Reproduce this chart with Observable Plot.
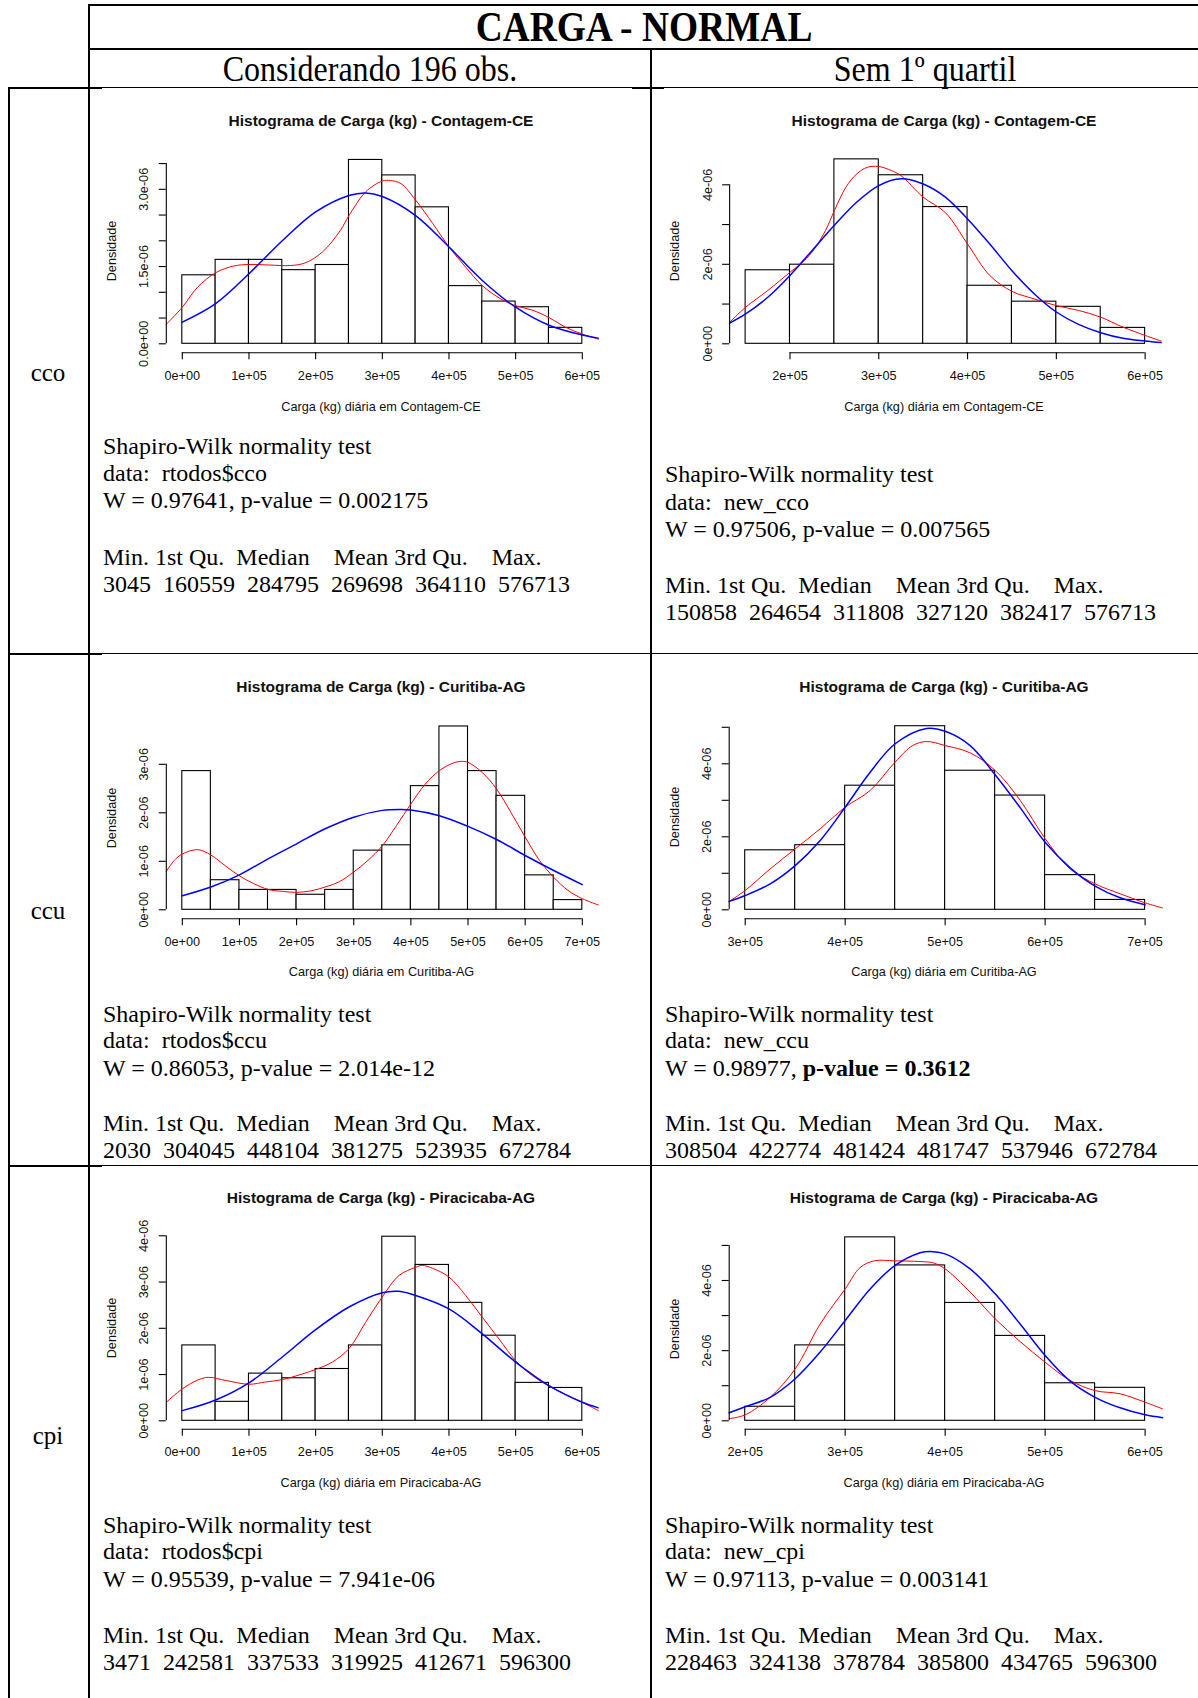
<!DOCTYPE html>
<html><head><meta charset="utf-8">
<script src="https://cdn.jsdelivr.net/npm/d3@7"></script>
<script src="https://cdn.jsdelivr.net/npm/@observablehq/plot@0.6"></script>
<style>
body{margin:0;background:#fff;}
#page{position:relative;width:1198px;height:1698px;overflow:hidden;background:#fff;}
.ln{position:absolute;background:#000;}
.t{position:absolute;white-space:pre;font-family:"Liberation Serif","Times New Roman",serif;color:#000;line-height:1;}
.r{position:absolute;white-space:pre;font-family:"Liberation Sans",Arial,sans-serif;color:#111;line-height:1;}
.panel{position:absolute;}
</style></head><body><div id="page"></div>
<script>
// ---------------- DATA (densities in units of 1e-6, x in kg) ----------------
// Panel cco - all 196 obs.
const ccoAllBreaks = [0,50000,100000,150000,200000,250000,300000,350000,400000,450000,500000,550000,600000];
const ccoAllDensity = [1.33,1.63,1.63,1.43,1.53,3.57,3.27,2.65,1.12,0.82,0.71,0.31];
const ccoAllNormX = [0,50000,100000,150000,200000,250000,275000,300000,350000,400000,450000,500000,550000,600000,624000];
const ccoAllNormY = [0.42,0.78,1.36,2.00,2.56,2.88,2.93,2.86,2.49,1.88,1.23,0.71,0.36,0.17,0.11];
const ccoAllKdeX = [-24000,0,23000,50000,77000,100000,130000,162000,184000,210000,237000,250000,275000,300000,312000,328000,350000,376000,400000,425000,450000,478000,500000,526000,550000,575000,600000,624000];
const ccoAllKdeY = [0.38,0.71,1.10,1.38,1.51,1.54,1.53,1.52,1.57,1.78,2.20,2.49,2.95,3.16,3.17,3.11,2.79,2.33,1.88,1.49,1.13,0.87,0.74,0.65,0.51,0.32,0.19,0.09];
const ccoAllXTicks = [0,100000,200000,300000,400000,500000,600000];
const ccoAllXLabels = ["0e+00","1e+05","2e+05","3e+05","4e+05","5e+05","6e+05"];
const ccoAllYTicks = [0,0.5,1,1.5,2,2.5,3,3.5];
const ccoAllYLabels = ["0.0e+00","","","1.5e-06","","","3.0e-06",""];

// Panel cco - without 1st quartile
const ccoSemBreaks = [150000,200000,250000,300000,350000,400000,450000,500000,550000,600000];
const ccoSemDensity = [1.85,1.99,4.64,4.24,3.44,1.46,1.06,0.93,0.40];
const ccoSemNormX = [132000,150000,175000,200000,225000,250000,275000,300000,325000,350000,375000,400000,425000,450000,475000,500000,525000,550000,575000,600000,618000];
const ccoSemNormY = [0.52,0.75,1.17,1.72,2.35,2.98,3.56,3.98,4.15,4.02,3.69,3.14,2.51,1.84,1.26,0.80,0.49,0.28,0.14,0.07,0.03];
const ccoSemKdeX = [132000,150000,175000,200000,212000,225000,240000,250000,263000,275000,287000,300000,314000,325000,350000,375000,400000,425000,450000,475000,500000,525000,550000,575000,600000,618000];
const ccoSemKdeY = [0.54,0.92,1.34,1.80,2.01,2.31,2.85,3.35,3.94,4.27,4.44,4.46,4.36,4.23,3.69,3.30,2.51,1.72,1.32,1.13,0.96,0.84,0.67,0.42,0.21,0.07];
const ccoSemXTicks = [200000,300000,400000,500000,600000];
const ccoSemXLabels = ["2e+05","3e+05","4e+05","5e+05","6e+05"];
const ccoSemYTicks = [0,1,2,3,4];
const ccoSemYLabels = ["0e+00","","2e-06","","4e-06"];

// Panel ccu - all 196 obs.
const ccuAllBreaks = [0,50000,100000,150000,200000,250000,300000,350000,400000,450000,500000,550000,600000,650000,700000];
const ccuAllDensity = [2.86,0.61,0.41,0.41,0.31,0.41,1.22,1.33,2.55,3.78,2.86,2.35,0.71,0.20];
const ccuAllNormX = [0,50000,100000,150000,200000,250000,300000,350000,381000,400000,450000,500000,550000,600000,650000,700000];
const ccuAllNormY = [0.29,0.47,0.72,1.05,1.36,1.67,1.91,2.05,2.07,2.06,1.94,1.72,1.45,1.12,0.81,0.52];
const ccuAllKdeX = [-28000,-14000,0,27000,50000,75000,100000,125000,150000,175000,200000,225000,250000,275000,300000,325000,350000,375000,400000,425000,450000,475000,489000,500000,525000,550000,575000,600000,625000,650000,675000,700000,728000];
const ccuAllKdeY = [0.79,1.02,1.15,1.24,1.13,0.91,0.70,0.54,0.42,0.38,0.36,0.39,0.47,0.58,0.78,1.02,1.32,1.74,2.18,2.59,2.87,3.03,3.06,3.04,2.83,2.49,2.01,1.50,1.02,0.67,0.40,0.23,0.10];
const ccuAllXTicks = [0,100000,200000,300000,400000,500000,600000,700000];
const ccuAllXLabels = ["0e+00","1e+05","2e+05","3e+05","4e+05","5e+05","6e+05","7e+05"];
const ccuAllYTicks = [0,1,2,3];
const ccuAllYLabels = ["0e+00","1e-06","2e-06","3e-06"];

// Panel ccu - without 1st quartile
const ccuSemBreaks = [300000,350000,400000,450000,500000,550000,600000,650000,700000];
const ccuSemDensity = [1.63,1.77,3.40,5.03,3.81,3.13,0.95,0.27];
const ccuSemNormX = [284000,300000,325000,350000,375000,400000,425000,450000,481500,500000,525000,550000,575000,600000,625000,650000,675000,700000];
const ccuSemNormY = [0.23,0.39,0.71,1.21,1.90,2.81,3.77,4.55,4.97,4.89,4.50,3.70,2.80,1.85,1.15,0.65,0.33,0.14];
const ccuSemKdeX = [284000,300000,325000,350000,375000,400000,425000,450000,467500,481500,500000,525000,550000,575000,600000,625000,650000,675000,700000,717500];
const ccuSemKdeY = [0.23,0.53,1.12,1.67,2.22,2.81,3.27,4.05,4.50,4.61,4.50,4.30,3.82,3.00,1.95,1.12,0.71,0.44,0.19,0.05];
const ccuSemXTicks = [300000,400000,500000,600000,700000];
const ccuSemXLabels = ["3e+05","4e+05","5e+05","6e+05","7e+05"];
const ccuSemYTicks = [0,1,2,3,4,5];
const ccuSemYLabels = ["0e+00","","2e-06","","4e-06",""];

// Panel cpi - all 196 obs.
const cpiAllBreaks = [0,50000,100000,150000,200000,250000,300000,350000,400000,450000,500000,550000,600000];
const cpiAllDensity = [1.63,0.41,1.02,0.92,1.12,1.63,3.98,3.37,2.55,1.84,0.82,0.71];
const cpiAllNormX = [0,50000,100000,150000,200000,250000,300000,325000,350000,400000,450000,500000,550000,600000,624000];
const cpiAllNormY = [0.22,0.45,0.82,1.38,1.97,2.46,2.77,2.80,2.71,2.42,1.88,1.27,0.76,0.40,0.28];
const cpiAllKdeX = [-24000,0,23000,39000,66000,100000,125000,150000,175000,200000,225000,250000,275000,300000,325000,350000,360000,375000,400000,425000,450000,475000,500000,525000,550000,575000,600000,624000];
const cpiAllKdeY = [0.40,0.69,0.88,0.94,0.87,0.79,0.84,0.89,0.99,1.11,1.27,1.56,2.13,2.68,3.14,3.32,3.36,3.30,3.11,2.71,2.24,1.77,1.30,0.98,0.75,0.57,0.40,0.22];
const cpiAllXTicks = [0,100000,200000,300000,400000,500000,600000];
const cpiAllXLabels = ["0e+00","1e+05","2e+05","3e+05","4e+05","5e+05","6e+05"];
const cpiAllYTicks = [0,1,2,3,4];
const cpiAllYLabels = ["0e+00","1e-06","2e-06","3e-06","4e-06"];

// Panel cpi - without 1st quartile
const cpiSemBreaks = [200000,250000,300000,350000,400000,450000,500000,550000,600000];
const cpiSemDensity = [0.40,2.15,5.23,4.43,3.36,2.42,1.07,0.94];
const cpiSemNormX = [184000,200000,225000,250000,275000,300000,325000,350000,375000,385000,400000,425000,450000,475000,500000,525000,550000,575000,600000,617500];
const cpiSemNormY = [0.23,0.40,0.67,1.20,1.96,2.86,3.76,4.43,4.79,4.83,4.76,4.33,3.62,2.76,1.86,1.13,0.67,0.37,0.17,0.09];
const cpiSemKdeX = [184000,200000,225000,250000,275000,300000,315000,329000,350000,375000,388500,400000,425000,450000,475000,500000,525000,550000,575000,600000,617500];
const cpiSemKdeY = [0.06,0.17,0.67,1.48,2.76,3.76,4.37,4.56,4.56,4.54,4.50,4.33,3.67,2.91,2.26,1.67,1.15,0.86,0.77,0.53,0.34];
const cpiSemXTicks = [200000,300000,400000,500000,600000];
const cpiSemXLabels = ["2e+05","3e+05","4e+05","5e+05","6e+05"];
const cpiSemYTicks = [0,1,2,3,4,5];
const cpiSemYLabels = ["0e+00","","2e-06","","4e-06",""];

// Texts
const mainTitle = "CARGA - NORMAL";
const colHeaders = ["Considerando 196 obs.", "Sem 1º quartil"];
const rowLabels = ["cco", "ccu", "cpi"];
const panelTitles = ["Histograma de Carga (kg) - Contagem-CE","Histograma de Carga (kg) - Curitiba-AG","Histograma de Carga (kg) - Piracicaba-AG"];
const xAxisTitles = ["Carga (kg) diária em Contagem-CE","Carga (kg) diária em Curitiba-AG","Carga (kg) diária em Piracicaba-AG"];
const yAxisTitle = "Densidade";
const summaryHeader = "Min. 1st Qu.  Median    Mean 3rd Qu.    Max.";
const ccoAllStats = ["Shapiro-Wilk normality test","data:  rtodos$cco","W = 0.97641, p-value = 0.002175",summaryHeader,"3045  160559  284795  269698  364110  576713"];
const ccoSemStats = ["Shapiro-Wilk normality test","data:  new_cco","W = 0.97506, p-value = 0.007565",summaryHeader,"150858  264654  311808  327120  382417  576713"];
const ccuAllStats = ["Shapiro-Wilk normality test","data:  rtodos$ccu","W = 0.86053, p-value = 2.014e-12",summaryHeader,"2030  304045  448104  381275  523935  672784"];
const ccuSemStats = ["Shapiro-Wilk normality test","data:  new_ccu","W = 0.98977, <b>p-value = 0.3612</b>",summaryHeader,"308504  422774  481424  481747  537946  672784"];
const cpiAllStats = ["Shapiro-Wilk normality test","data:  rtodos$cpi","W = 0.95539, p-value = 7.941e-06",summaryHeader,"3471  242581  337533  319925  412671  596300"];
const cpiSemStats = ["Shapiro-Wilk normality test","data:  new_cpi","W = 0.97113, p-value = 0.003141",summaryHeader,"228463  324138  378784  385800  434765  596300"];

// ---------------- LAYOUT ----------------
const page = document.getElementById("page");
function line(x, y, w, h) {
  const d = document.createElement("div"); d.className = "ln";
  Object.assign(d.style, {left: x + "px", top: y + "px", width: w + "px", height: h + "px"});
  page.appendChild(d);
}
function text(cls, str, x, y, opts = {}) {
  const d = document.createElement("div"); d.className = cls;
  d.innerHTML = str;
  const tr = opts.anchor === "start" ? "translate(0,-50%)" : "translate(-50%,-50%)";
  Object.assign(d.style, {left: x + "px", top: y + "px", fontSize: (opts.size || 24) + "px",
    fontWeight: opts.bold ? "bold" : "normal",
    transform: tr + (opts.rotate ? ` rotate(${opts.rotate}deg)` : "") + (opts.sx ? ` scaleX(${opts.sx})` : "")});
  page.appendChild(d);
}

// table rules
line(88, 4, 1110, 2);
line(88, 48, 1110, 2);
line(100, 87, 1098, 1.3);
line(8, 86.5, 94, 2.2);
line(632, 86.5, 32, 2);
line(88, 4, 2, 1694);
line(8, 86.5, 2, 1612);
line(650.3, 49, 1.4, 1649);
line(100, 653, 1098, 1.3); line(8, 652.5, 94, 2.2);
line(100, 1165, 1098, 1.3); line(8, 1164.5, 94, 2.2);

// header texts
text("t", mainTitle, 643.5, 26, {size: 43, bold: true, sx: 0.87});
text("t", colHeaders[0], 370, 68.5, {size: 36, sx: 0.89});
text("t", colHeaders[1], 924.5, 68.5, {size: 36, sx: 0.89});
// row labels
text("t", rowLabels[0], 48, 371.5, {size: 25});
text("t", rowLabels[1], 48, 910, {size: 25});
text("t", rowLabels[2], 48, 1435, {size: 25});

// stats texts
function stats(lines, x, ys) { lines.forEach((s, i) => text("t", s, x, ys[i], {size: 24, anchor: "start"})); }
const yRow1L = [446.3, 473.4, 500.4, 556.8, 583.8];
const yRow1R = [474.4, 501.5, 528.6, 584.9, 612];
const yRow2 = [1013.9, 1039.9, 1068, 1123.3, 1150.4];
const yRow3 = [1525.1, 1551.2, 1579.3, 1634.6, 1661.6];
stats(ccoAllStats, 103, yRow1L); stats(ccoSemStats, 665, yRow1R);
stats(ccuAllStats, 103, yRow2); stats(ccuSemStats, 665, yRow2);
stats(cpiAllStats, 103, yRow3); stats(cpiSemStats, 665, yRow3);

// histogram panels
function panel(c) {
  const bins = c.density.map((d, i) => ({x1: c.breaks[i], x2: c.breaks[i + 1], y: d}));
  const norm = c.normX.map((x, i) => ({x, y: c.normY[i]}));
  const kde = c.kdeX.map((x, i) => ({x, y: c.kdeY[i]}));
  const pxX = (c.width - c.ml - c.mr) / (c.xDomain[1] - c.xDomain[0]);
  const pxY = (c.height - c.mt - c.mb) / (c.yDomain[1] - c.yDomain[0]);
  const tick = 7;
  const x0 = c.xDomain[0], y0 = c.yDomain[0];
  const svg = Plot.plot({
    width: c.width, height: c.height,
    marginLeft: c.ml, marginRight: c.mr, marginTop: c.mt, marginBottom: c.mb,
    x: {domain: c.xDomain, axis: null},
    y: {domain: c.yDomain, axis: null},
    style: {background: "transparent", overflow: "visible", fontFamily: "Liberation Sans, Arial, sans-serif"},
    marks: [
      Plot.rectY(bins, {x1: "x1", x2: "x2", y1: 0, y2: "y", fill: "white", stroke: "#000", strokeWidth: 1.1}),
      Plot.line(kde, {x: "x", y: "y", stroke: "#ff0000", strokeWidth: 1, curve: "catmull-rom"}),
      Plot.line(norm, {x: "x", y: "y", stroke: "#0000ff", strokeWidth: 1.5, curve: "catmull-rom"}),
      Plot.ruleY([y0], {x1: c.xTicks[0], x2: c.xTicks[c.xTicks.length - 1], stroke: "#000", strokeWidth: 1.1}),
      Plot.ruleX(c.xTicks, {x: d => d, y1: y0, y2: y0 - tick / pxY, stroke: "#000", strokeWidth: 1.1}),
      Plot.text(c.xTicks, {x: d => d, text: (d, i) => c.xLabels[i], frameAnchor: "bottom", lineAnchor: "middle", textAnchor: "middle", dy: 23, fontSize: 12.7, fill: "#111"}),
      Plot.ruleX([x0], {y1: c.yTicks[0], y2: c.yTicks[c.yTicks.length - 1], stroke: "#000", strokeWidth: 1.1}),
      Plot.ruleY(c.yTicks, {y: d => d, x1: x0, x2: x0 - tick / pxX, stroke: "#000", strokeWidth: 1.1}),
      Plot.text(c.yTicks, {y: d => d, text: (d, i) => c.yLabels[i], frameAnchor: "left", textAnchor: "middle", lineAnchor: "middle", dx: -22, rotate: -90, fontSize: 12.7, fill: "#111"})
    ]
  });
  svg.classList.add("panel");
  svg.style.left = c.left + "px"; svg.style.top = c.top + "px";
  page.appendChild(svg);
  text("r", c.title, c.tp[0], c.tp[1], {size: 15.5, bold: true});
  text("r", c.xlab, c.xp[0], c.xp[1], {size: 12.7});
  text("r", yAxisTitle, c.yp[0], c.yp[1], {size: 12.7, rotate: -90});
}

panel({left: 90, top: 100, width: 560, height: 330, ml: 75.8, mr: 52.2, mt: 11.55, mb: 77.7,
  xDomain: [-24000, 624000], yDomain: [-0.1748, 4.5],
  breaks: ccoAllBreaks, density: ccoAllDensity, normX: ccoAllNormX, normY: ccoAllNormY, kdeX: ccoAllKdeX, kdeY: ccoAllKdeY,
  xTicks: ccoAllXTicks, xLabels: ccoAllXLabels, yTicks: ccoAllYTicks, yLabels: ccoAllYLabels,
  title: panelTitles[0], xlab: xAxisTitles[0], tp: [381, 120.7], xp: [381, 406.7], yp: [112, 251.3]});
panel({left: 650, top: 100, width: 548, height: 330, ml: 79.13, mr: 37.4, mt: 12.75, mb: 77.7,
  xDomain: [132000, 618000], yDomain: [-0.2264, 5.8],
  breaks: ccoSemBreaks, density: ccoSemDensity, normX: ccoSemNormX, normY: ccoSemNormY, kdeX: ccoSemKdeX, kdeY: ccoSemKdeY,
  xTicks: ccoSemXTicks, xLabels: ccoSemXLabels, yTicks: ccoSemYTicks, yLabels: ccoSemYLabels,
  title: panelTitles[0], xlab: xAxisTitles[0], tp: [944, 120.7], xp: [944, 406.7], yp: [675, 251]});
panel({left: 90, top: 665, width: 560, height: 330, ml: 75.8, mr: 52.2, mt: 11.5, mb: 76.7,
  xDomain: [-28000, 728000], yDomain: [-0.1856, 4.8],
  breaks: ccuAllBreaks, density: ccuAllDensity, normX: ccuAllNormX, normY: ccuAllNormY, kdeX: ccuAllKdeX, kdeY: ccuAllKdeY,
  xTicks: ccuAllXTicks, xLabels: ccuAllXLabels, yTicks: ccuAllYTicks, yLabels: ccuAllYLabels,
  title: panelTitles[1], xlab: xAxisTitles[1], tp: [381, 687.3], xp: [381.5, 972.3], yp: [112, 817.7]});
panel({left: 650, top: 665, width: 548, height: 330, ml: 78.7, mr: 37.4, mt: 18, mb: 76.7,
  xDomain: [284000, 716000], yDomain: [-0.2466, 6.2],
  breaks: ccuSemBreaks, density: ccuSemDensity, normX: ccuSemNormX, normY: ccuSemNormY, kdeX: ccuSemKdeX, kdeY: ccuSemKdeY,
  xTicks: ccuSemXTicks, xLabels: ccuSemXLabels, yTicks: ccuSemYTicks, yLabels: ccuSemYLabels,
  title: panelTitles[1], xlab: xAxisTitles[1], tp: [944, 686.7], xp: [944, 972.3], yp: [675, 817]});
panel({left: 90, top: 1175, width: 560, height: 330, ml: 75.8, mr: 52.2, mt: 14.05, mb: 76.3,
  xDomain: [-24000, 624000], yDomain: [-0.1816, 5],
  breaks: cpiAllBreaks, density: cpiAllDensity, normX: cpiAllNormX, normY: cpiAllNormY, kdeX: cpiAllKdeX, kdeY: cpiAllKdeY,
  xTicks: cpiAllXTicks, xLabels: cpiAllXLabels, yTicks: cpiAllYTicks, yLabels: cpiAllYLabels,
  title: panelTitles[2], xlab: xAxisTitles[2], tp: [381, 1197.7], xp: [381, 1483.3], yp: [112, 1328.3]});
panel({left: 650, top: 1175, width: 548, height: 330, ml: 78.7, mr: 37.4, mt: 17.3, mb: 76.3,
  xDomain: [184000, 616000], yDomain: [-0.2395, 6.5],
  breaks: cpiSemBreaks, density: cpiSemDensity, normX: cpiSemNormX, normY: cpiSemNormY, kdeX: cpiSemKdeX, kdeY: cpiSemKdeY,
  xTicks: cpiSemXTicks, xLabels: cpiSemXLabels, yTicks: cpiSemYTicks, yLabels: cpiSemYLabels,
  title: panelTitles[2], xlab: xAxisTitles[2], tp: [944, 1197.7], xp: [944, 1483.3], yp: [675, 1328.6]});
</script></body></html>
